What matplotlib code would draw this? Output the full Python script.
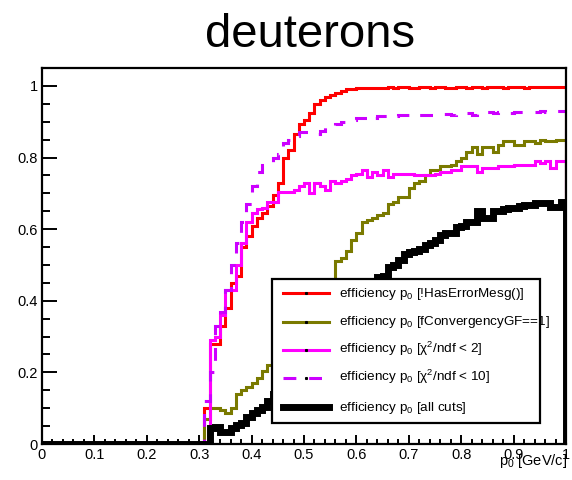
import numpy as np
import matplotlib
matplotlib.use("Agg")
import matplotlib.pyplot as plt
from matplotlib.patches import Rectangle
from matplotlib.lines import Line2D
from matplotlib.ticker import MultipleLocator, FuncFormatter

plt.rcParams['font.family'] = ['Liberation Sans', 'DejaVu Sans']
plt.rcParams['mathtext.fontset'] = 'custom'
plt.rcParams['mathtext.rm'] = 'Liberation Sans'
plt.rcParams['mathtext.it'] = 'Liberation Sans'
plt.rcParams['mathtext.bf'] = 'Liberation Sans'

# p0 histogram: 100 bins of 0.01 GeV/c; bins below 0.31 GeV/c are empty
n_bins = 100
first_filled_bin = 31

# efficiencies for bins 0.31 ... 0.99 GeV/c
eff_no_error = [
    0.10, 0.28, 0.28, 0.33, 0.38, 0.45, 0.47, 0.55, 0.58, 0.61,
    0.63, 0.645, 0.665, 0.695, 0.73, 0.80, 0.82, 0.865, 0.895, 0.905,
    0.925, 0.95, 0.96, 0.97, 0.975, 0.98, 0.985, 0.99, 0.99, 0.993,
    0.995, 0.993, 0.995, 0.993, 0.995, 0.996, 0.993, 0.996, 0.996, 0.995,
    0.994, 0.996, 0.997, 0.995, 0.996, 0.997, 0.995, 0.994, 0.997, 0.996,
    0.995, 0.997, 0.996, 0.994, 0.997, 0.996, 0.997, 0.995, 0.997, 0.996,
    0.997, 0.995, 0.996, 0.997, 0.996, 0.997, 0.996, 0.997, 0.997,
]
eff_converged = [
    0.07, 0.10, 0.10, 0.095, 0.087, 0.10, 0.14, 0.15, 0.16, 0.17,
    0.185, 0.205, 0.22, 0.24, 0.26, 0.28, 0.30, 0.32, 0.34, 0.36,
    0.38, 0.40, 0.42, 0.43, 0.45, 0.51, 0.52, 0.54, 0.57, 0.59,
    0.62, 0.625, 0.63, 0.64, 0.645, 0.67, 0.675, 0.69, 0.69, 0.715,
    0.73, 0.735, 0.75, 0.765, 0.765, 0.775, 0.775, 0.78, 0.79, 0.80,
    0.815, 0.83, 0.81, 0.83, 0.83, 0.815, 0.835, 0.845, 0.845, 0.835,
    0.835, 0.845, 0.845, 0.84, 0.85, 0.845, 0.845, 0.85, 0.85,
]
eff_chi2_2 = [
    0.0, 0.29, 0.30, 0.36, 0.43, 0.43, 0.50, 0.56, 0.62, 0.645,
    0.655, 0.66, 0.675, 0.675, 0.705, 0.705, 0.705, 0.71, 0.72, 0.73,
    0.70, 0.73, 0.72, 0.71, 0.735, 0.73, 0.735, 0.74, 0.75, 0.755,
    0.765, 0.745, 0.76, 0.75, 0.765, 0.745, 0.755, 0.755, 0.755, 0.755,
    0.75, 0.75, 0.75, 0.75, 0.755, 0.76, 0.76, 0.765, 0.765, 0.775,
    0.775, 0.775, 0.76, 0.77, 0.77, 0.77, 0.775, 0.775, 0.775, 0.78,
    0.78, 0.78, 0.78, 0.79, 0.785, 0.79, 0.77, 0.79, 0.79,
]
eff_chi2_10 = [
    0.12, 0.20, 0.33, 0.37, 0.43, 0.50, 0.56, 0.62, 0.67, 0.72,
    0.76, 0.78, 0.78, 0.80, 0.81, 0.84, 0.85, 0.86, 0.87, 0.87,
    0.865, 0.865, 0.875, 0.89, 0.89, 0.895, 0.90, 0.90, 0.905, 0.91,
    0.91, 0.915, 0.91, 0.915, 0.915, 0.912, 0.915, 0.918, 0.918, 0.917,
    0.92, 0.92, 0.92, 0.918, 0.92, 0.922, 0.922, 0.92, 0.923, 0.924,
    0.925, 0.92, 0.925, 0.925, 0.926, 0.924, 0.926, 0.927, 0.925, 0.927,
    0.928, 0.926, 0.928, 0.928, 0.929, 0.928, 0.93, 0.929, 0.93,
]
eff_all_cuts = [
    0.0, 0.045, 0.047, 0.034, 0.034, 0.045, 0.053, 0.06, 0.075, 0.087,
    0.095, 0.103, 0.12, 0.14, 0.16, 0.18, 0.20, 0.22, 0.235, 0.25,
    0.27, 0.29, 0.31, 0.33, 0.35, 0.37, 0.385, 0.40, 0.415, 0.425,
    0.435, 0.445, 0.455, 0.465, 0.47, 0.495, 0.50, 0.515, 0.53, 0.535,
    0.54, 0.545, 0.555, 0.56, 0.57, 0.585, 0.59, 0.59, 0.605, 0.61,
    0.62, 0.62, 0.65, 0.63, 0.63, 0.65, 0.65, 0.655, 0.66, 0.66,
    0.665, 0.667, 0.667, 0.673, 0.673, 0.673, 0.662, 0.662, 0.675,
]

legend_labels = [
    r"efficiency p$_{0}$ [!HasErrorMesg()]",
    r"efficiency p$_{0}$ [fConvergencyGF==1]",
    r"efficiency p$_{0}$ [χ$^{2}$/ndf < 2]",
    r"efficiency p$_{0}$ [χ$^{2}$/ndf < 10]",
    r"efficiency p$_{0}$ [all cuts]",
]
x_ticks = [0, 0.1, 0.2, 0.3, 0.4, 0.5, 0.6, 0.7, 0.8, 0.9, 1.0]
y_ticks = [0, 0.2, 0.4, 0.6, 0.8, 1.0]

edges = np.linspace(0.0, 1.0, n_bins + 1)


def full_hist(vals):
    return np.concatenate([np.zeros(first_filled_bin), np.asarray(vals, float)])


styles = [
    dict(color="#ff0000", lw=2.2, ls="-"),
    dict(color="#7a7a00", lw=2.2, ls="-"),
    dict(color="#ff00ff", lw=2.2, ls="-"),
    dict(color="#cc00ff", lw=2.2, ls=(0, (4.2, 4.2))),
    dict(color="#000000", lw=5.0, ls="-"),
]
series = [eff_no_error, eff_converged, eff_chi2_2, eff_chi2_10, eff_all_cuts]

W, H = 572, 480
fig = plt.figure(figsize=(W / 100, H / 100), dpi=100)
ax_l, ax_r, ax_b, ax_t = 42, 566, 444, 68
ax = fig.add_axes([ax_l / W, 1 - ax_b / H, (ax_r - ax_l) / W, (ax_b - ax_t) / H])

for vals, st in zip(series, styles):
    ax.stairs(full_hist(vals), edges, baseline=0, color=st["color"],
              linewidth=st["lw"], linestyle=st["ls"], joinstyle="miter")

ax.set_xlim(0, 1)
ax.set_ylim(0, 1.05)

fmt = FuncFormatter(lambda v, p: "%g" % round(v, 3))
ax.set_xticks(x_ticks)
ax.set_yticks(y_ticks)
ax.xaxis.set_major_formatter(fmt)
ax.yaxis.set_major_formatter(fmt)
ax.xaxis.set_minor_locator(MultipleLocator(0.02))
ax.yaxis.set_minor_locator(MultipleLocator(0.05))
ax.tick_params(axis="both", which="both", direction="in", top=False, right=False,
               labelsize=10.5, width=1.4)
ax.tick_params(axis="x", which="major", length=6.5, pad=3)
ax.tick_params(axis="x", which="minor", length=3.5)
ax.tick_params(axis="y", which="major", length=11, pad=3)
ax.tick_params(axis="y", which="minor", length=5.5)
for sp in ax.spines.values():
    sp.set_linewidth(1.6)

# axis title at the lower right
fig.text(567 / W, 1 - 465 / H, r"p$_{0}$ [GeV/c]", ha="right", va="baseline",
         fontsize=10.5)

# figure title
fig.text(310 / W, 1 - 47 / H, "deuterons", ha="center", va="baseline", fontsize=34)

# legend box
def ax_x(px):
    return (px - ax_l) / (ax_r - ax_l)


def ax_y(py):
    return (ax_b - py) / (ax_b - ax_t)


bx0, bx1, by0, by1 = ax_x(272), ax_x(540), ax_y(423), ax_y(279)
ax.add_patch(Rectangle((bx0, by0), bx1 - bx0, by1 - by0, transform=ax.transAxes,
                       facecolor="white", edgecolor="none", zorder=10, clip_on=False))
ax.add_patch(Rectangle((bx0, by0), bx1 - bx0, by1 - by0, transform=ax.transAxes,
                       facecolor="none", edgecolor="black", linewidth=1.6,
                       zorder=13, clip_on=False))
row_px = [293, 321.5, 350, 378, 407]
for label, st, rp in zip(legend_labels, styles, row_px):
    yy = ax_y(rp)
    ax.add_line(Line2D([ax_x(283), ax_x(329)], [yy, yy], transform=ax.transAxes,
                       color=st["color"], linewidth=st["lw"], linestyle=st["ls"],
                       zorder=11, clip_on=False))
    ax.add_line(Line2D([ax_x(306)], [yy], transform=ax.transAxes, marker="s",
                       markersize=1.2, color="black", linestyle="none",
                       zorder=11.5, clip_on=False))
    ax.text(ax_x(339), yy - 3.5 / (ax_b - ax_t), label, transform=ax.transAxes,
            ha="left", va="baseline", fontsize=9.7, zorder=12, clip_on=False)

fig.savefig("out.png", dpi=100)
